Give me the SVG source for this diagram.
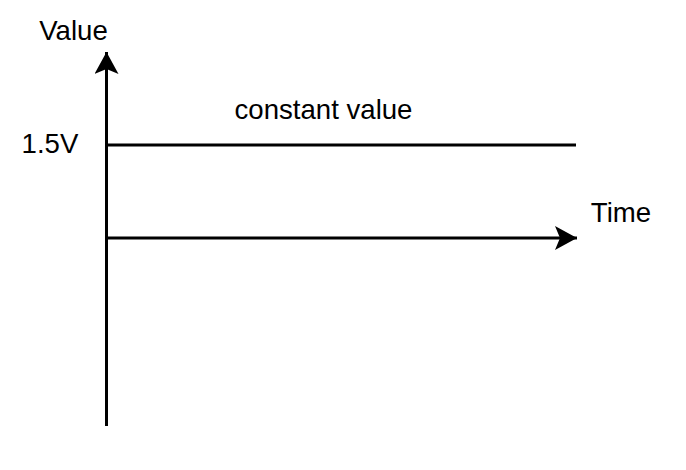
<svg xmlns="http://www.w3.org/2000/svg" width="686" height="470" viewBox="0 0 686 470">
<style>
.ln{stroke:#000;stroke-width:3;fill:none}
.t{font-family:"Liberation Sans",Arial,sans-serif;font-size:27.6px;fill:#000}
</style>
<defs>
<marker id="ah" viewBox="0 0 24 24" refX="22" refY="12" markerWidth="24" markerHeight="24" markerUnits="userSpaceOnUse" orient="auto">
<path d="M0,0 L22,12 L0,24 L5,12 Z" fill="#000"/>
</marker>
</defs>
<rect width="686" height="470" fill="#fff"/>
<g id="connectors">
<line class="ln" x1="106.5" y1="426" x2="106.5" y2="52" marker-end="url(#ah)"/>
<line class="ln" x1="106.5" y1="238" x2="577" y2="238" marker-end="url(#ah)"/>
<line class="ln" x1="106.5" y1="145" x2="576" y2="145"/>
</g>
<g id="label-value"><text class="t" x="73.5" y="40" text-anchor="middle">Value</text></g>
<g id="label-15v"><text class="t" x="50" y="153" text-anchor="middle">1.5V</text></g>
<g id="label-constant"><text class="t" x="323.5" y="119" text-anchor="middle">constant value</text></g>
<g id="label-time"><text class="t" x="621" y="222" text-anchor="middle">Time</text></g>
</svg>
